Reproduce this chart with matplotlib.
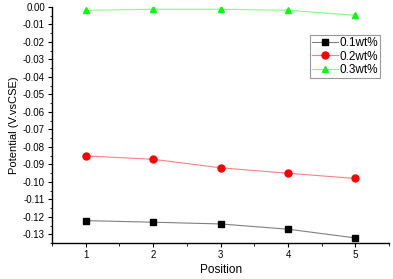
import matplotlib.pyplot as plt
from matplotlib.ticker import MultipleLocator

plt.rcParams['font.family'] = ['Liberation Sans', 'DejaVu Sans']

# --- datos ---
posicion = [1, 2, 3, 4, 5]
serie_01 = [-0.1222, -0.1231, -0.1241, -0.1271, -0.1321]
serie_02 = [-0.0852, -0.0871, -0.0920, -0.0951, -0.0981]
serie_03 = [-0.0019, -0.0013, -0.0013, -0.0019, -0.0048]
etiquetas = ['0.1wt%', '0.2wt%', '0.3wt%']

fig = plt.figure(figsize=(3.93, 2.79), dpi=100)
ax = fig.add_axes([0.1323, 0.129, 0.858, 0.846])

ax.plot(posicion, serie_01, color='#808080', lw=0.8, marker='s', ms=4.5,
        mfc='black', mec='black', label=etiquetas[0])
ax.plot(posicion, serie_02, color='#ff8080', lw=0.8, marker='o', ms=5,
        mfc='red', mec='red', label=etiquetas[1])
ax.plot(posicion, serie_03, color='#80ff80', lw=0.8, marker='^', ms=5,
        mfc='#00ff00', mec='#00ff00', label=etiquetas[2])

ax.set_xlim(0.5, 5.5)
ax.set_ylim(-0.135, 0.0)
ax.xaxis.set_major_locator(MultipleLocator(1))
ax.xaxis.set_minor_locator(MultipleLocator(0.5))
ax.yaxis.set_major_locator(MultipleLocator(0.01))
ax.yaxis.set_minor_locator(MultipleLocator(0.005))
ax.yaxis.set_major_formatter(plt.FormatStrFormatter('%.2f'))

for lado in ['top', 'right']:
    ax.spines[lado].set_visible(False)
for lado in ['left', 'bottom']:
    ax.spines[lado].set_linewidth(1.0)

ax.tick_params(which='major', direction='out', length=3, width=0.8, labelsize=7, pad=2)
ax.tick_params(which='minor', direction='out', length=1.8, width=0.6)

ax.set_xlabel('Position', fontsize=8.5, labelpad=3)
ax.set_ylabel('Potential (V.vsCSE)', fontsize=8, labelpad=3)

leg = ax.legend(loc='upper right', bbox_to_anchor=(0.973, 0.881), fontsize=8.5,
                frameon=True, fancybox=False, borderpad=0.2, labelspacing=0.1,
                handlelength=2.2, handletextpad=0.1, borderaxespad=0)
leg.get_frame().set_edgecolor('#808080')
leg.get_frame().set_linewidth(0.8)

fig.savefig('out.png', dpi=100)
